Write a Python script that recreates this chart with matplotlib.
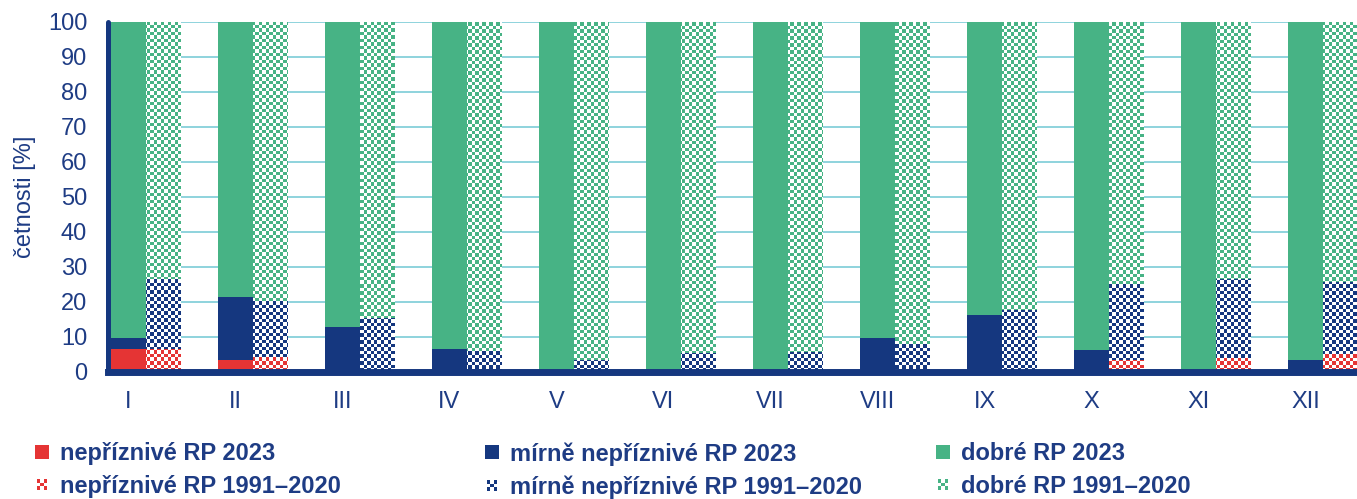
import numpy as np
import matplotlib
matplotlib.use("Agg")
import matplotlib.pyplot as plt
from matplotlib.patches import Rectangle, Patch
from matplotlib.legend_handler import HandlerBase

plt.rcParams['font.family'] = ['Liberation Sans', 'DejaVu Sans']

months = ['I', 'II', 'III', 'IV', 'V', 'VI', 'VII', 'VIII', 'IX', 'X', 'XI', 'XII']
unfav_2023 = [6.4, 3.4, 0, 0, 0, 0, 0, 0, 0, 0, 0, 0]
mild_2023 = [3.2, 17.9, 12.7, 6.5, 0, 0, 0, 9.5, 16.3, 6.2, 0, 3.2]
good_2023 = [100 - a - b for a, b in zip(unfav_2023, mild_2023)]
unfav_clim = [6.3, 4.1, 0, 0, 0, 0, 0, 0, 0, 3.4, 3.9, 5.1]
mild_clim = [20.1, 16.0, 15.3, 6.0, 3.4, 5.3, 5.7, 8.0, 17.6, 21.7, 22.7, 20.5]
good_clim = [100 - a - b for a, b in zip(unfav_clim, mild_clim)]

labels_2023 = ['nepříznivé RP 2023', 'mírně nepříznivé RP 2023', 'dobré RP 2023']
labels_clim = ['nepříznivé RP 1991–2020', 'mírně nepříznivé RP 1991–2020', 'dobré RP 1991–2020']

RED = '#E53434'
NAVY = '#15377F'
GREEN = '#47B385'
GRID = '#8ED3DD'
TEXT = '#1E3C84'
colors = [RED, NAVY, GREEN]

W, H = 1357, 499
fig = plt.figure(figsize=(W / 100, H / 100), dpi=100)
ax = fig.add_axes([108 / W, 1 - 371.5 / H, (W - 108) / W, (371.5 - 22) / H])

x = np.arange(len(months))
bw = 0.327
xlim = (-0.19, 11.48)
ylim = (0, 100)

# solid 2023 bars
bottom = np.zeros(len(months))
for vals, c in zip([unfav_2023, mild_2023, good_2023], colors):
    ax.bar(x, vals, bw, bottom=bottom, color=c, linewidth=0, zorder=2)
    bottom += np.array(vals)

# checkerboard climatology bars
ax_w_px = W - 108
ax_h_px = 371.5 - 22
cell = 3.5
nx = int(round(ax_w_px / cell))
ny = int(round(ax_h_px / cell))
ii, jj = np.meshgrid(np.arange(nx), np.arange(ny))
mask = ((ii + jj) % 2 == 0)

def checker(color):
    rgb = np.array(matplotlib.colors.to_rgb(color))
    img = np.ones((ny, nx, 3))
    img[mask] = rgb
    return img

bottom = np.zeros(len(months))
for vals, c in zip([unfav_clim, mild_clim, good_clim], colors):
    bars = ax.bar(x + bw, vals, bw, bottom=bottom, color='white', linewidth=0, zorder=2)
    img = checker(c)
    for b, v in zip(bars, vals):
        if v <= 0:
            continue
        im = ax.imshow(img, extent=(xlim[0], xlim[1], ylim[0], ylim[1]), origin='lower',
                       interpolation='nearest', aspect='auto', zorder=3)
        im.set_clip_path(b)
    bottom += np.array(vals)

ax.set_xlim(*xlim)
ax.set_ylim(*ylim)
ax.set_aspect('auto')

# grid
ax.set_yticks(np.arange(0, 101, 10))
ax.yaxis.grid(True, color=GRID, linewidth=1.4, zorder=0)
ax.set_axisbelow(True)
ax.set_xticks(x)
ax.set_xticklabels(months)

ax.tick_params(axis='both', length=0, labelsize=17, colors=TEXT)
ax.tick_params(axis='x', pad=14)
ax.tick_params(axis='y', pad=15)

for s in ['top', 'right']:
    ax.spines[s].set_visible(False)
ax.spines['bottom'].set_color(NAVY)
ax.spines['bottom'].set_linewidth(5)
ax.spines['left'].set_color(NAVY)
ax.spines['left'].set_linewidth(3.6)
ax.spines['left'].set_capstyle('round')
ax.spines['bottom'].set_zorder(5)
ax.spines['left'].set_zorder(5)

ax.set_ylabel('četnosti [%]', fontsize=17, color=TEXT)
ax.yaxis.set_label_coords(-0.0575, 0.5)


class SolidHandler(HandlerBase):
    def __init__(self, color):
        super().__init__()
        self.color = color

    def create_artists(self, legend, orig_handle, xdescent, ydescent, width, height, fontsize, trans):
        s = min(width, height)
        x0 = -xdescent + (width - s) / 2
        y0 = -ydescent + (height - s) / 2
        return [Rectangle((x0, y0), s, s, facecolor=self.color, edgecolor='none', transform=trans)]


class CheckerHandler(HandlerBase):
    def __init__(self, color):
        super().__init__()
        self.color = color

    def create_artists(self, legend, orig_handle, xdescent, ydescent, width, height, fontsize, trans):
        s = min(width, height) * 0.75
        x0 = -xdescent + (width - s) / 2
        y0 = -ydescent + (height - s) / 2
        n = 3
        arts = []
        for i in range(n):
            for j in range(n):
                fc = self.color if (i + j) % 2 == 0 else 'white'
                arts.append(Rectangle((x0 + i * s / n, y0 + j * s / n), s / n, s / n,
                                      facecolor=fc, edgecolor='none', transform=trans))
        return arts


col_x = [35, 485, 936]
for k in range(3):
    h1 = Patch(label=labels_2023[k])
    h2 = Patch(label=labels_clim[k])
    leg = fig.legend(handles=[h1, h2], loc='upper left',
                     bbox_to_anchor=(col_x[k] / W, 1 - 442 / H),
                     frameon=False, ncol=1,
                     prop={'weight': 'bold', 'size': 17},
                     handlelength=0.6, handleheight=0.6, handletextpad=0.47,
                     labelspacing=0.42, borderpad=0, borderaxespad=0,
                     handler_map={h1: SolidHandler(colors[k]), h2: CheckerHandler(colors[k])})
    for t in leg.get_texts():
        t.set_color(TEXT)

fig.savefig('out.png', dpi=100)
